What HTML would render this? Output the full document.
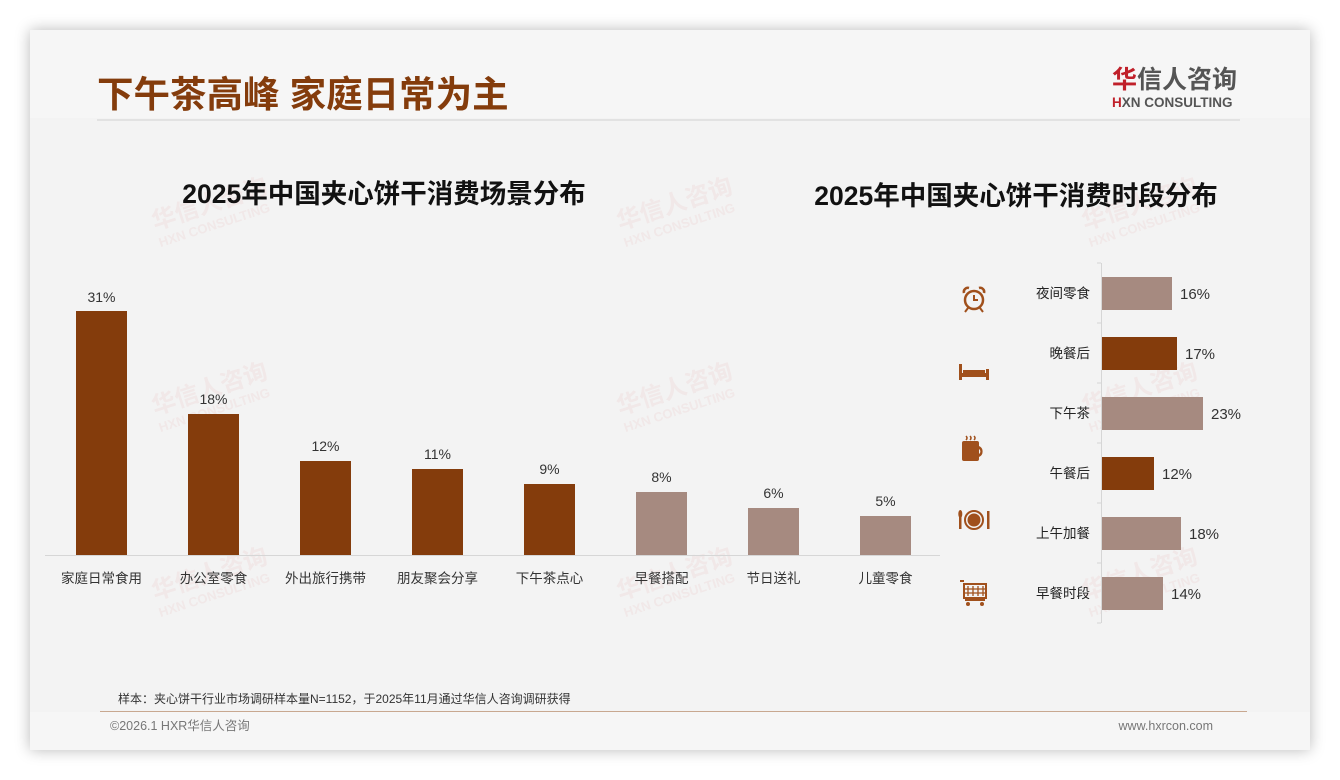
<!DOCTYPE html>
<html><head><meta charset="utf-8">
<style>
html,body{margin:0;padding:0;background:#fff;}
body{width:1340px;height:780px;position:relative;overflow:hidden;font-family:"Liberation Sans","Noto Sans CJK SC",sans-serif;}
.card{position:absolute;left:30px;top:30px;width:1280px;height:720px;background:#f3f3f3;box-shadow:0 0 14px rgba(0,0,0,0.28);}
</style></head><body>
<div class="card"></div>
<svg width="1340" height="780" style="position:absolute;left:0;top:0" font-family="Liberation Sans, Noto Sans CJK SC, sans-serif">
<rect x="30" y="30" width="1280" height="88" fill="#f6f6f6"/>
<rect x="30" y="712" width="1280" height="38" fill="#f6f6f6"/>
<!-- watermarks -->
<g fill="#d46a6a" opacity="0.08" font-weight="bold">
<g transform="translate(155,230) rotate(-18)"><text font-size="24">华信人咨询</text><text y="18" font-size="13">HXN CONSULTING</text></g>
<g transform="translate(620,230) rotate(-18)"><text font-size="24">华信人咨询</text><text y="18" font-size="13">HXN CONSULTING</text></g>
<g transform="translate(1085,230) rotate(-18)"><text font-size="24">华信人咨询</text><text y="18" font-size="13">HXN CONSULTING</text></g>
<g transform="translate(155,415) rotate(-18)"><text font-size="24">华信人咨询</text><text y="18" font-size="13">HXN CONSULTING</text></g>
<g transform="translate(620,415) rotate(-18)"><text font-size="24">华信人咨询</text><text y="18" font-size="13">HXN CONSULTING</text></g>
<g transform="translate(1085,415) rotate(-18)"><text font-size="24">华信人咨询</text><text y="18" font-size="13">HXN CONSULTING</text></g>
<g transform="translate(155,600) rotate(-18)"><text font-size="24">华信人咨询</text><text y="18" font-size="13">HXN CONSULTING</text></g>
<g transform="translate(620,600) rotate(-18)"><text font-size="24">华信人咨询</text><text y="18" font-size="13">HXN CONSULTING</text></g>
<g transform="translate(1085,600) rotate(-18)"><text font-size="24">华信人咨询</text><text y="18" font-size="13">HXN CONSULTING</text></g>
</g>
<!-- header -->
<text x="97" y="107" font-size="36.5" font-weight="bold" fill="#843c0c">下午茶高峰 家庭日常为主</text>
<line x1="97" y1="120" x2="1240" y2="120" stroke="#dcdcdc" stroke-width="1.5"/>
<text x="1112" y="88" font-size="25" font-weight="bold" fill="#555"><tspan fill="#c0202a">华</tspan>信人咨询</text>
<text x="1112" y="107" font-size="13.5" font-weight="bold" fill="#555"><tspan fill="#c0202a">H</tspan>XN CONSULTING</text>
<!-- titles -->
<text x="384" y="203" font-size="26.5" font-weight="bold" fill="#111" text-anchor="middle">2025年中国夹心饼干消费场景分布</text>
<text x="1016" y="205" font-size="26.5" font-weight="bold" fill="#111" text-anchor="middle">2025年中国夹心饼干消费时段分布</text>
<!-- left chart -->
<line x1="45" y1="555.5" x2="940" y2="555.5" stroke="#d6d6d6" stroke-width="1"/>
<g font-size="14" fill="#333" text-anchor="middle">
<rect x="76" y="311" width="51" height="244" fill="#843c0c"/><text x="101.5" y="302">31%</text><text x="101.5" y="583" font-size="13.5">家庭日常食用</text>
<rect x="188" y="414" width="51" height="141" fill="#843c0c"/><text x="213.5" y="404">18%</text><text x="213.5" y="583" font-size="13.5">办公室零食</text>
<rect x="300" y="461" width="51" height="94" fill="#843c0c"/><text x="325.5" y="451">12%</text><text x="325.5" y="583" font-size="13.5">外出旅行携带</text>
<rect x="412" y="469" width="51" height="86" fill="#843c0c"/><text x="437.5" y="459">11%</text><text x="437.5" y="583" font-size="13.5">朋友聚会分享</text>
<rect x="524" y="484" width="51" height="71" fill="#843c0c"/><text x="549.5" y="474">9%</text><text x="549.5" y="583" font-size="13.5">下午茶点心</text>
<rect x="636" y="492" width="51" height="63" fill="#a68a80"/><text x="661.5" y="482">8%</text><text x="661.5" y="583" font-size="13.5">早餐搭配</text>
<rect x="748" y="508" width="51" height="47" fill="#a68a80"/><text x="773.5" y="498">6%</text><text x="773.5" y="583" font-size="13.5">节日送礼</text>
<rect x="860" y="516" width="51" height="39" fill="#a68a80"/><text x="885.5" y="506">5%</text><text x="885.5" y="583" font-size="13.5">儿童零食</text>
</g>
<!-- right chart -->
<line x1="1101.5" y1="263" x2="1101.5" y2="623" stroke="#d6d6d6"/>
<g stroke="#d6d6d6"><line x1="1097" y1="263" x2="1101" y2="263"/><line x1="1097" y1="323" x2="1101" y2="323"/><line x1="1097" y1="383" x2="1101" y2="383"/><line x1="1097" y1="443" x2="1101" y2="443"/><line x1="1097" y1="503" x2="1101" y2="503"/><line x1="1097" y1="563" x2="1101" y2="563"/><line x1="1097" y1="623" x2="1101" y2="623"/></g>
<g font-size="13.5" fill="#222" text-anchor="end">
<text x="1090" y="298">夜间零食</text><text x="1090" y="358">晚餐后</text><text x="1090" y="418">下午茶</text><text x="1090" y="478">午餐后</text><text x="1090" y="538">上午加餐</text><text x="1090" y="598">早餐时段</text>
</g>
<rect x="1102" y="277" width="70" height="33" fill="#a68a80"/>
<rect x="1102" y="337" width="75" height="33" fill="#843c0c"/>
<rect x="1102" y="397" width="101" height="33" fill="#a68a80"/>
<rect x="1102" y="457" width="52" height="33" fill="#843c0c"/>
<rect x="1102" y="517" width="79" height="33" fill="#a68a80"/>
<rect x="1102" y="577" width="61" height="33" fill="#a68a80"/>
<g font-size="15" fill="#333">
<text x="1180" y="299">16%</text><text x="1185" y="359">17%</text><text x="1211" y="419">23%</text><text x="1162" y="479">12%</text><text x="1189" y="539">18%</text><text x="1171" y="599">14%</text>
</g>
<!-- icons -->
<g fill="#a0501c" stroke="#a0501c">
<g transform="translate(974,300)" fill="none" stroke-width="2.5"><circle r="9"/><path d="M0,-5 V0 H4" stroke-width="2"/><path d="M-10,-7 a4,4 0 0 1 5,-5 M10,-7 a4,4 0 0 0 -5,-5" stroke-width="2.5"/><path d="M-6,8 l-3,4 M6,8 l3,4" stroke-width="2"/></g>
<g transform="translate(959,364)" stroke="none"><rect x="0" y="0" width="3" height="16"/><rect x="27" y="5" width="3" height="11"/><rect x="0" y="9" width="30" height="4"/><rect x="4" y="6" width="22" height="3"/></g>
<g transform="translate(962,436)" stroke="none"><rect x="0" y="5" width="17" height="20" rx="2"/><path d="M17,10 a6,6 0 0 1 0,11 v-3 a3,3 0 0 0 0,-5z"/><path d="M4,0 q2,2 0,4 M8,0 q2,2 0,4 M12,0 q2,2 0,4" fill="none" stroke="#a0501c" stroke-width="1.5"/></g>
<g transform="translate(974,520)"><circle r="9" fill="none" stroke-width="2"/><circle r="6.5" stroke="none"/><rect x="-15" y="-5" width="2.5" height="14" stroke="none"/><ellipse cx="-13.7" cy="-6" rx="2" ry="4" stroke="none"/><rect x="13" y="-9" width="2.5" height="18" stroke="none"/></g>
<g transform="translate(960,580)" stroke="none"><rect x="0" y="0" width="4" height="2"/><rect x="4" y="4" width="22" height="14" fill="none" stroke="#a0501c" stroke-width="2"/><path d="M8,6v10M13,6v10M18,6v10M23,6v10M5,9h21M5,13h21" stroke="#a0501c" stroke-width="1.3"/><rect x="5" y="19" width="20" height="2"/><circle cx="8" cy="24" r="2"/><circle cx="22" cy="24" r="2"/></g>
</g>
<!-- footer -->
<text x="118" y="703" font-size="12" fill="#333">样本：夹心饼干行业市场调研样本量N=1152，于2025年11月通过华信人咨询调研获得</text>
<line x1="100" y1="711.5" x2="1247" y2="711.5" stroke="#c8a890" stroke-width="1"/>
<text x="110" y="730" font-size="12.5" fill="#777">©2026.1 HXR华信人咨询</text>
<text x="1213" y="730" font-size="12.5" fill="#777" text-anchor="end">www.hxrcon.com</text>
</svg>
</body></html>
